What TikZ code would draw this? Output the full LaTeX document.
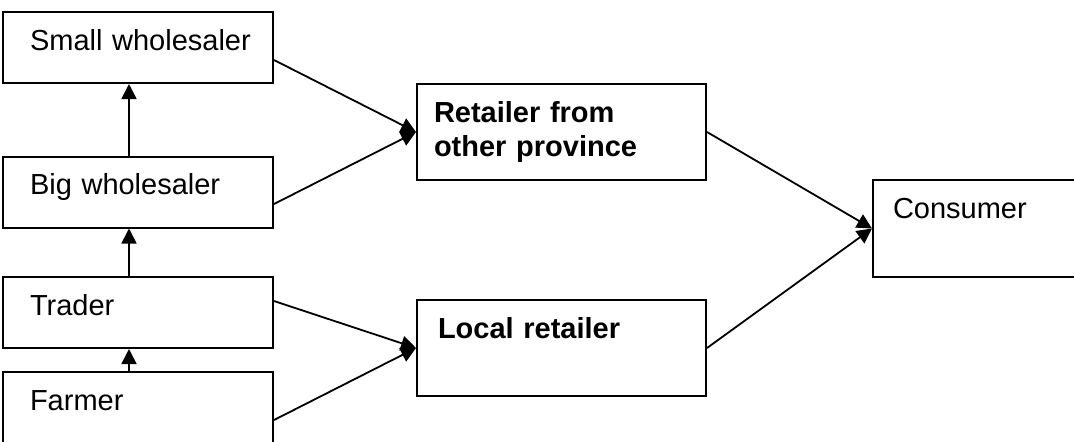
\documentclass[tikz,border=0pt]{standalone}
\usepackage{fontspec}
\setmainfont{Liberation Sans}
\usetikzlibrary{arrows.meta,positioning}

\begin{document}
\begin{tikzpicture}[x=0.5pt,y=-0.5pt,
  box/.style={draw,line width=1pt,rectangle,align=left,inner ysep=0pt,
    font=\fontsize{14.5}{17.4}\selectfont},
  sidebox/.style={box,minimum width=135pt,minimum height=35.5pt,
    text width=108pt,inner xsep=13.5pt,text height=11pt,text depth=8.5pt},
  arr/.style={-{Triangle[length=7.5pt,width=7.5pt]},line width=0.9pt}]
\useasboundingbox (0,0) rectangle (1074,441);
\clip (0,0) rectangle (1074,441);
% chain on the left
\node[sidebox] (sw) at (138,47.5) {\mbox{Small wholesaler}};
\node[sidebox] (bw) at (138,192) {Big wholesaler};
\node[sidebox] (tr) at (138,312.5) {Trader};
\node[sidebox] (fa) at (138,407.5) {Farmer};
% retailers
\node[box,minimum width=144.5pt,minimum height=48pt,text width=127.5pt,inner xsep=8.5pt,
  font=\fontsize{14.5}{17.4}\selectfont\bfseries] (rop) at (561.5,132) {Retailer from\\other province};
\node[box,minimum width=144.5pt,minimum height=48pt,text width=123.5pt,inner xsep=10.5pt,
  text height=11pt,text depth=21pt,font=\fontsize{14.5}{17.4}\selectfont\bfseries] (lr) at (561.5,348) {Local retailer};
% consumer
\node[box,minimum width=110pt,minimum height=48.5pt,text width=90pt,inner xsep=10pt,
  text height=11pt,text depth=21.5pt] (co) at (983,228.5) {Consumer};
% arrows
\draw[arr] ([xshift=-4.5pt]bw.north) -- ([xshift=-4.5pt]sw.south);
\draw[arr] ([xshift=-4.5pt]tr.north) -- ([xshift=-4.5pt]bw.south);
\draw[arr] ([xshift=-4.5pt]fa.north) -- ([xshift=-4.5pt]tr.south);
\draw[arr] ([yshift=-6.25pt]sw.east) -- (rop.west);
\draw[arr] ([yshift=-6pt]bw.east) -- (rop.west);
\draw[arr] ([yshift=5.75pt]tr.east) -- (lr.west);
\draw[arr] ([yshift=-6.25pt]fa.east) -- (lr.west);
\draw[arr] (rop.east) -- (co.west);
\draw[arr] (lr.east) -- (co.west);
\end{tikzpicture}
\end{document}
